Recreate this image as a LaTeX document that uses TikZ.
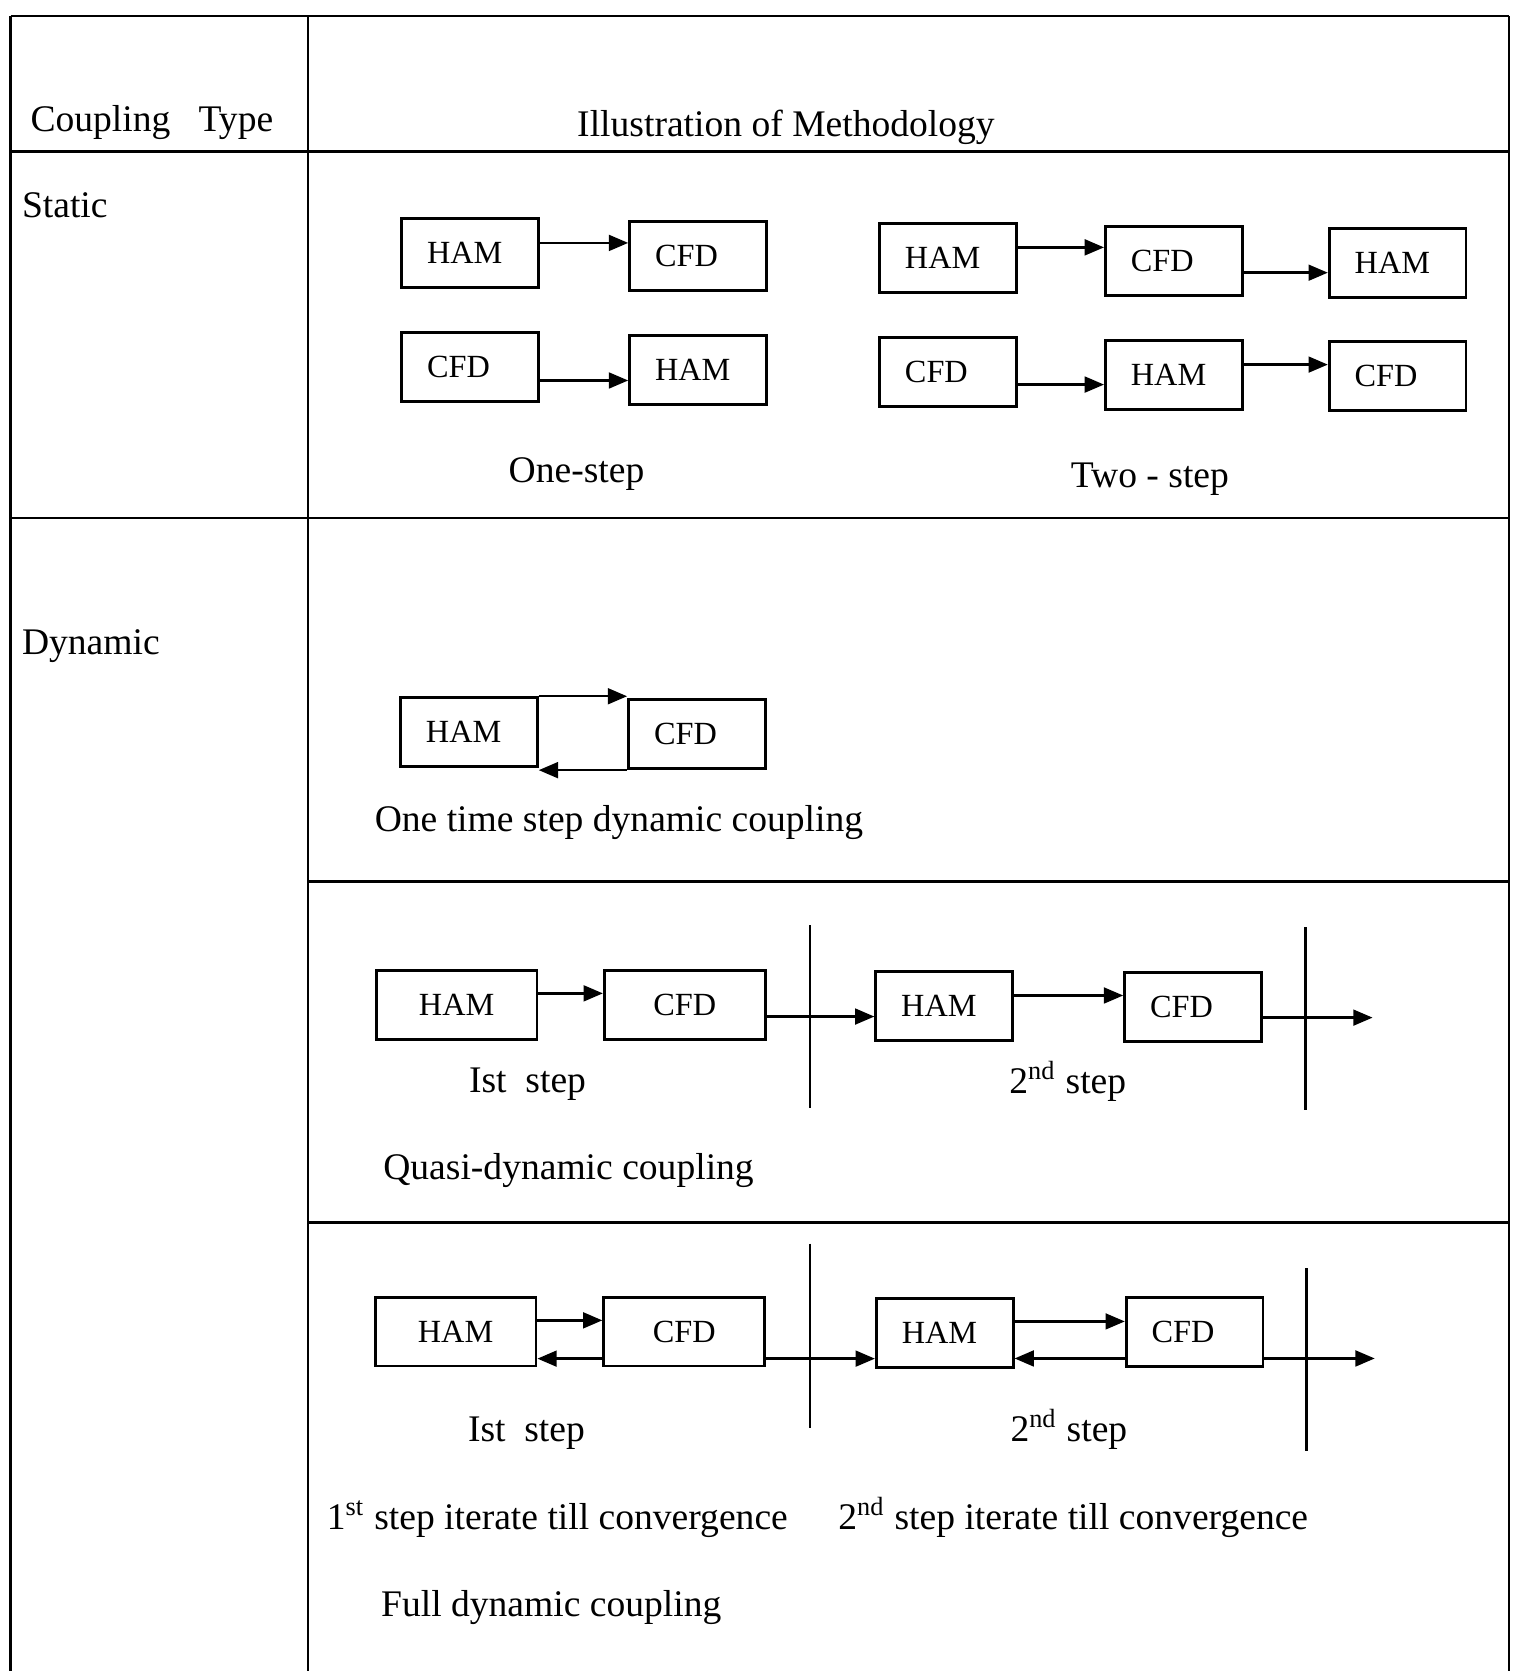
\documentclass[tikz,border=0pt]{standalone}
\usepackage{fontspec}
\setmainfont{Liberation Serif}
\usetikzlibrary{arrows.meta}

\begin{document}
\begin{tikzpicture}[x=0.01066cm, y=-0.01066cm, font=\fontsize{10.7}{13}\selectfont,
	rule/.style={line width=0.7pt},
	box/.style={draw, line width=0.8pt, inner xsep=7.25pt, inner ysep=0pt, text width=0.86cm, align=left, minimum height=0.69cm, font=\fontsize{9.2}{11}\selectfont},
	wide/.style={box, text width=1.1cm, align=center},
	flow/.style={line width=0.7pt, -{Triangle[length=5.5pt,width=4.5pt]}},
	lbl/.style={anchor=base west, inner sep=0pt},
	mid/.style={anchor=base, inner sep=0pt}]
\useasboundingbox (0,0) rectangle (1423,1568);
\draw[rule] (10,15) -- (1416,15) (10,142) -- (1416,142) (10,486) -- (1416,486) (289,827) -- (1416,827) (289,1147) -- (1416,1147);
\draw[rule] (10,15) -- (10,1568) (289,15) -- (289,1568) (1416,15) -- (1416,1568);
\node[lbl] (type) at (28,123) {Coupling~~~Type};
\node[lbl] (method) at (541,128) {Illustration of Methodology};
\node[lbl] (static) at (20,204) {Static};
\node[lbl] (dynamic) at (20,614) {Dynamic};
\node[box] (ham 1) at (441,237.5) {HAM};
\node[box] (cfd 1) at (655,240) {CFD};
\node[box] (cfd 2) at (441,344.5) {CFD};
\node[box] (ham 2) at (655,347) {HAM};
\node[mid] (one step) at (541,453) {One-step};
\node[box] (ham 3) at (889.5,242) {HAM};
\node[box] (cfd 3) at (1101.5,245) {CFD};
\node[box] (ham 4) at (1311.5,247) {HAM};
\node[box] (cfd 4) at (889.5,349) {CFD};
\node[box] (ham 5) at (1101.5,352) {HAM};
\node[box] (cfd 5) at (1311.5,353) {CFD};
\node[mid] (two step) at (1079,457) {Two - step};
\node[box] (ham 6) at (440,687) {HAM};
\node[box] (cfd 6) at (654,689) {CFD};
\node[lbl] (one time) at (351,780) {One time step dynamic coupling};
\node[wide] (ham 7) at (428.5,943) {HAM};
\node[wide] (cfd 7) at (642.5,943) {CFD};
\node[box] (ham 8) at (886,944) {HAM};
\node[box] (cfd 8) at (1119.5,945) {CFD};
\coordinate (end q) at (1288,945);
\node[mid] (quasi 1) at (495,1025) {Ist\ \ step};
\node[mid] (quasi 2) at (1002,1026) {2\textsuperscript{nd} step};
\node[lbl] (quasi) at (359,1107) {Quasi-dynamic coupling};
\node[wide] (ham 9) at (427.5,1249.5) {HAM};
\node[wide] (cfd 9) at (642,1249.5) {CFD};
\node[box] (ham 10) at (886.5,1250.5) {HAM};
\node[box] (cfd 10) at (1121,1250) {CFD};
\coordinate (end f) at (1290,1250);
\node[mid] (full 1) at (494,1353) {Ist\ \ step};
\node[mid] (full 2) at (1003,1353) {2\textsuperscript{nd} step};
\node[lbl] (iter 1) at (306,1435) {1\textsuperscript{st} step iterate till convergence};
\node[lbl] (iter 2) at (786,1435) {2\textsuperscript{nd} step iterate till convergence};
\node[lbl] (full) at (357,1517) {Full dynamic coupling};
\draw[rule] (760,868) -- (760,1040) (1225,870) -- (1225,1042) (760,1167) -- (760,1340) (1226,1190) -- (1226,1362);
\draw[flow] ([yshift=2.9pt]ham 1.east) -- ([yshift=2.9pt]ham 1.east -| cfd 1.west);
\draw[flow] ([yshift=-3.8pt]cfd 2.east) -- ([yshift=-3.8pt]cfd 2.east -| ham 2.west);
\draw[flow] ([yshift=3pt]ham 3.east) -- ([yshift=3pt]ham 3.east -| cfd 3.west);
\draw[flow] ([yshift=-3.3pt]cfd 3.east) -- ([yshift=-3.3pt]cfd 3.east -| ham 4.west);
\draw[flow] ([yshift=-3.6pt]cfd 4.east) -- ([yshift=-3.6pt]cfd 4.east -| ham 5.west);
\draw[flow] ([yshift=3pt]ham 5.east) -- ([yshift=3pt]ham 5.east -| cfd 5.west);
\draw[flow] (ham 6.north east) -- (ham 6.north east -| cfd 6.west);
\draw[flow] (cfd 6.south west) -- (cfd 6.south west -| ham 6.east);
\draw[flow] ([yshift=3.3pt]ham 7.east) -- ([yshift=3.3pt]ham 7.east -| cfd 7.west);
\draw[flow] ([yshift=-3.3pt]cfd 7.east) -- ([yshift=-3.3pt]cfd 7.east -| ham 8.west);
\draw[flow] ([yshift=3pt]ham 8.east) -- ([yshift=3pt]ham 8.east -| cfd 8.west);
\draw[flow] ([yshift=-3pt]cfd 8.east) -- ([yshift=-3pt]cfd 8.east -| end q);
\draw[flow] ([yshift=3.2pt]ham 9.east) -- ([yshift=3.2pt]ham 9.east -| cfd 9.west);
\draw[flow] ([yshift=-7.7pt]cfd 9.west) -- ([yshift=-7.7pt]cfd 9.west -| ham 9.east);
\draw[flow] ([yshift=-7.7pt]cfd 9.east) -- ([yshift=-7.7pt]cfd 9.east -| ham 10.west);
\draw[flow] ([yshift=3.2pt]ham 10.east) -- ([yshift=3.2pt]ham 10.east -| cfd 10.west);
\draw[flow] ([yshift=-7.5pt]cfd 10.west) -- ([yshift=-7.5pt]cfd 10.west -| ham 10.east);
\draw[flow] ([yshift=-7.5pt]cfd 10.east) -- ([yshift=-7.5pt]cfd 10.east -| end f);
\end{tikzpicture}
\end{document}
